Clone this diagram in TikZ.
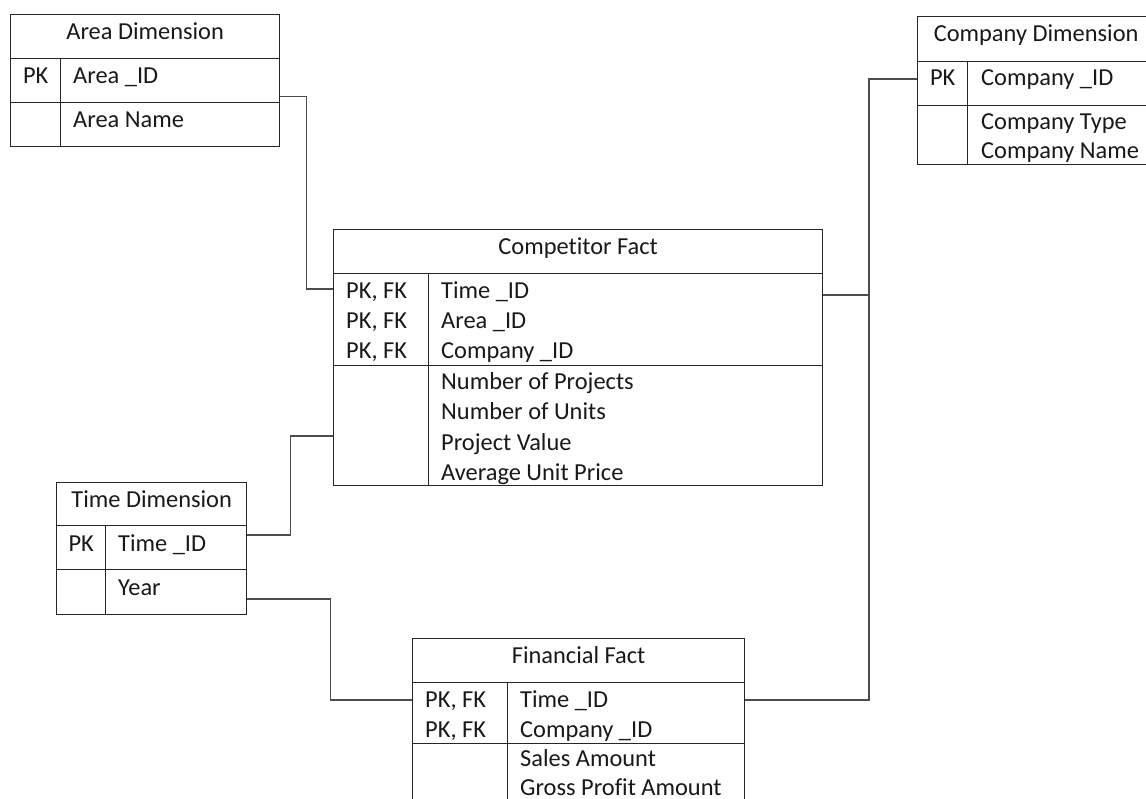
\documentclass[tikz,border=0pt]{standalone}
\usepackage{fontspec}
\setmainfont{Carlito}[Ligatures=NoCommon]
\usepackage{tikz}
\usetikzlibrary{positioning, calc}
\colorlet{line color}{black!85}
\colorlet{link color}{black!70}
\tikzset{cell/.style={draw=line color, line width=1.3pt, rectangle, anchor=north west, inner sep=0pt}}
\tikzset{txt/.style={anchor=base west, inner sep=0pt, text=black!90, font=\fontsize{24.4}{30}\selectfont}}
\tikzset{hd/.style={txt, anchor=base}}
\tikzset{link/.style={draw=link color, line width=1.3pt}}

\begin{document}
\begin{tikzpicture}[x=1pt, y=-1pt]
                \fill[white] (0,0) rectangle (1146,799);
                \path[use as bounding box, clip] (0,0) rectangle (1146,799);
                % Area Dimension
                \node[cell, minimum width=269pt, minimum height=44pt] (areaHead) at (10,14) {};
                \node[cell, minimum width=50pt, minimum height=44pt] (areaPk) at (10,58) {};
                \node[cell, minimum width=219pt, minimum height=44pt] (areaId) at (60,58) {};
                \node[cell, minimum width=50pt, minimum height=44pt] (areaNo) at (10,102) {};
                \node[cell, minimum width=219pt, minimum height=44pt] (areaAt) at (60,102) {};
                \node[hd] (areaTitle) at ([yshift=-26pt]areaHead.north) {Area Dimension};
                \node[hd] (areaKey) at ([yshift=-26pt]areaPk.north) {PK};
                \node[txt] (areaIdTxt) at ([shift={(13,26)}]areaId.north west) {Area \_ID};
                \node[txt] (areaName) at ([shift={(13,26)}]areaAt.north west) {Area Name};
                % Company Dimension
                \node[cell, minimum width=237pt, minimum height=45pt] (coHead) at (917,16) {};
                \node[cell, minimum width=50pt, minimum height=44pt] (coPk) at (917,61) {};
                \node[cell, minimum width=187pt, minimum height=44pt] (coId) at (967,61) {};
                \node[cell, minimum width=50pt, minimum height=59pt] (coNo) at (917,105) {};
                \node[cell, minimum width=187pt, minimum height=59pt] (coAt) at (967,105) {};
                \node[hd] (coTitle) at ([yshift=-26pt]coHead.north) {Company Dimension};
                \node[hd] (coKey) at ([yshift=-25pt]coPk.north) {PK};
                \node[txt] (coIdTxt) at ([shift={(14,25)}]coId.north west) {Company \_ID};
                \foreach \t [count=\i from 0] in {Company Type, Company Name}
                    \node[txt] (coA\i) at ([shift={(14,25+29*\i)}]coAt.north west) {\t};
                % Competitor Fact
                \node[cell, minimum width=489pt, minimum height=44pt] (compHead) at (333,229) {};
                \node[cell, minimum width=95pt, minimum height=92pt] (compPk) at (333,273) {};
                \node[cell, minimum width=394pt, minimum height=92pt] (compId) at (428,273) {};
                \node[cell, minimum width=95pt, minimum height=120pt] (compNo) at (333,365) {};
                \node[cell, minimum width=394pt, minimum height=120pt] (compAt) at (428,365) {};
                \node[hd] (compTitle) at ([yshift=-26pt]compHead.north) {Competitor Fact};
                \foreach \t [count=\i from 0] in {Time \_ID, Area \_ID, Company \_ID} {
                    \node[txt] (compF\i) at ([shift={(13,26+30*\i)}]compPk.north west) {PK, FK};
                    \node[txt] (compK\i) at ([shift={(13,26+30*\i)}]compId.north west) {\t};
                }
                \foreach \t [count=\i from 0] in {Number of Projects, Number of Units, Project Value, Average Unit Price}
                    \node[txt] (compM\i) at ([shift={(13,25+30*\i)}]compAt.north west) {\t};
                % Time Dimension
                \node[cell, minimum width=190pt, minimum height=43pt] (timeHead) at (56,482) {};
                \node[cell, minimum width=49pt, minimum height=44pt] (timePk) at (56,525) {};
                \node[cell, minimum width=141pt, minimum height=44pt] (timeId) at (105,525) {};
                \node[cell, minimum width=49pt, minimum height=45pt] (timeNo) at (56,569) {};
                \node[cell, minimum width=141pt, minimum height=45pt] (timeAt) at (105,569) {};
                \node[hd] (timeTitle) at ([yshift=-25pt]timeHead.north) {Time Dimension};
                \node[hd] (timeKey) at ([yshift=-26pt]timePk.north) {PK};
                \node[txt] (timeIdTxt) at ([shift={(13,26)}]timeId.north west) {Time \_ID};
                \node[txt] (timeYear) at ([shift={(13,26)}]timeAt.north west) {Year};
                % Financial Fact
                \node[cell, minimum width=332pt, minimum height=44pt] (finHead) at (412,638) {};
                \node[cell, minimum width=95pt, minimum height=61pt] (finPk) at (412,682) {};
                \node[cell, minimum width=237pt, minimum height=61pt] (finId) at (507,682) {};
                \node[cell, minimum width=95pt, minimum height=62pt] (finNo) at (412,743) {};
                \node[cell, minimum width=237pt, minimum height=62pt] (finAt) at (507,743) {};
                \node[hd] (finTitle) at ([yshift=-25pt]finHead.north) {Financial Fact};
                \foreach \t [count=\i from 0] in {Time \_ID, Company \_ID} {
                    \node[txt] (finF\i) at ([shift={(13,25+30*\i)}]finPk.north west) {PK, FK};
                    \node[txt] (finK\i) at ([shift={(13,25+30*\i)}]finId.north west) {\t};
                }
                \foreach \t [count=\i from 0] in {Sales Amount, Gross Profit Amount}
                    \node[txt] (finM\i) at ([shift={(13,23+29*\i)}]finAt.north west) {\t};
                % relations
                \draw[link] ([yshift=7pt]areaId.south east) -- ++(26,0) |- ([yshift=-16pt]compPk.north west);
                \draw[link] ([yshift=-18pt]coPk.north west) -- ++(-48,0) coordinate (bus) |- ([yshift=-18pt]finId.north east);
                \draw[link] ([yshift=-22pt]compId.north east) -| (bus);
                \draw[link] ([yshift=-10pt]timeId.north east) -- ++(43,0) |- ([yshift=-71pt]compNo.north west);
                \draw[link] ([yshift=-30pt]timeAt.north east) -- ++(83,0) |- ([yshift=-18pt]finPk.north west);
            \end{tikzpicture}
\end{document}
